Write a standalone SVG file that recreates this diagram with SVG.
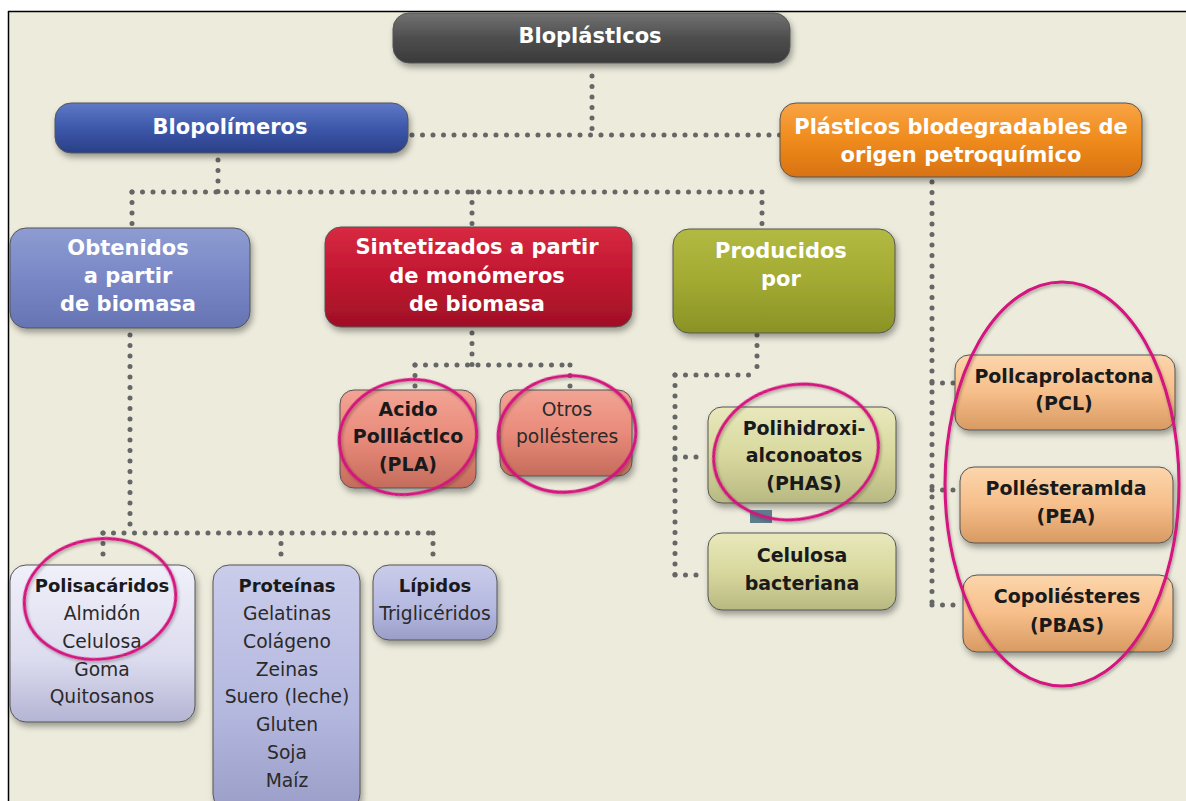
<svg xmlns="http://www.w3.org/2000/svg" width="1186" height="801" viewBox="0 0 1186 801">
<defs>
<filter id="sh" x="-10%" y="-10%" width="125%" height="135%"><feDropShadow dx="2" dy="4" stdDeviation="3" flood-color="#000" flood-opacity="0.35"/></filter>
<filter id="esh" x="-10%" y="-10%" width="125%" height="125%"><feDropShadow dx="1" dy="2" stdDeviation="1.5" flood-color="#000" flood-opacity="0.3"/></filter>
<linearGradient id="gDark" x1="0" y1="0" x2="0" y2="1"><stop offset="0" stop-color="#727272"/><stop offset="0.5" stop-color="#4e4e4e"/><stop offset="1" stop-color="#3a3a3a"/></linearGradient>
<linearGradient id="gBlue" x1="0" y1="0" x2="0" y2="1"><stop offset="0" stop-color="#6078c6"/><stop offset="0.5" stop-color="#3d58aa"/><stop offset="1" stop-color="#2a3f88"/></linearGradient>
<linearGradient id="gOrange" x1="0" y1="0" x2="0" y2="1"><stop offset="0" stop-color="#f8a445"/><stop offset="0.5" stop-color="#ef8b1c"/><stop offset="1" stop-color="#d87212"/></linearGradient>
<linearGradient id="gLav" x1="0" y1="0" x2="0" y2="1"><stop offset="0" stop-color="#8e9cd2"/><stop offset="0.5" stop-color="#7987c6"/><stop offset="1" stop-color="#6674b4"/></linearGradient>
<linearGradient id="gRed" x1="0" y1="0" x2="0" y2="1"><stop offset="0" stop-color="#d82a42"/><stop offset="0.5" stop-color="#c01630"/><stop offset="1" stop-color="#a01026"/></linearGradient>
<linearGradient id="gOlive" x1="0" y1="0" x2="0" y2="1"><stop offset="0" stop-color="#b2ba42"/><stop offset="0.5" stop-color="#a2aa32"/><stop offset="1" stop-color="#8a9226"/></linearGradient>
<linearGradient id="gSalmon" x1="0" y1="0" x2="0" y2="1"><stop offset="0" stop-color="#f2a494"/><stop offset="0.5" stop-color="#e98a7a"/><stop offset="1" stop-color="#c46c5c"/></linearGradient>
<linearGradient id="gPale" x1="0" y1="0" x2="0" y2="1"><stop offset="0" stop-color="#e8e8bc"/><stop offset="0.5" stop-color="#d8d89e"/><stop offset="1" stop-color="#b8b882"/></linearGradient>
<linearGradient id="gLor" x1="0" y1="0" x2="0" y2="1"><stop offset="0" stop-color="#fcd6ac"/><stop offset="0.5" stop-color="#f6be8a"/><stop offset="1" stop-color="#d89a62"/></linearGradient>
<linearGradient id="gPlav" x1="0" y1="0" x2="0" y2="1"><stop offset="0" stop-color="#f0f0fa"/><stop offset="0.6" stop-color="#dcdcef"/><stop offset="1" stop-color="#b4b4d4"/></linearGradient>
<linearGradient id="gLav2" x1="0" y1="0" x2="0" y2="1"><stop offset="0" stop-color="#caccea"/><stop offset="0.6" stop-color="#b4b8df"/><stop offset="1" stop-color="#9a9ec8"/></linearGradient>
<style>
.box{stroke:#555;stroke-width:1;filter:url(#sh)}
.dot{fill:none;stroke:#666;stroke-width:5;stroke-linecap:round;stroke-dasharray:0 10.5}
.tw{font-family:"DejaVu Sans","Verdana",sans-serif;font-weight:bold;fill:#fff;text-anchor:middle;font-size:21px}
.tb{font-family:"DejaVu Sans","Verdana",sans-serif;font-weight:bold;fill:#1a1a1a;text-anchor:middle;font-size:19px}
.tn{font-family:"DejaVu Sans","Verdana",sans-serif;fill:#2a2a2a;text-anchor:middle;font-size:18.7px}
.bb{font-size:18px}
.ring{fill:none;stroke:#d4127e;stroke-width:3;filter:url(#esh)}
</style>
</defs>
<rect x="0" y="0" width="1186" height="801" fill="#fff"/>
<rect x="8" y="11" width="1178" height="790" fill="#ecebdc"/>
<path d="M8 11.5H1186M8.5 11V801" stroke="#000" stroke-width="1.5" fill="none"/>

<g id="connectors">
<path class="dot" d="M592 76V135"/>
<path class="dot" d="M412 135H780"/>
<path class="dot" d="M218 160V192"/>
<path class="dot" d="M132 192H762"/>
<path class="dot" d="M132 192V226"/>
<path class="dot" d="M472 192V226"/>
<path class="dot" d="M762 192V228"/>
<path class="dot" d="M932 182V605"/>
<path class="dot" d="M932 383H955"/>
<path class="dot" d="M932 490H960"/>
<path class="dot" d="M932 605H963"/>
<path class="dot" d="M130 335V533"/>
<path class="dot" d="M103 533H433"/>
<path class="dot" d="M103 533V563"/>
<path class="dot" d="M281 533V563"/>
<path class="dot" d="M433 533V563"/>
<path class="dot" d="M472 333V365"/>
<path class="dot" d="M415 365H570"/>
<path class="dot" d="M415 365V388"/>
<path class="dot" d="M570 365V388"/>
<path class="dot" d="M757 335V375"/>
<path class="dot" d="M675 375H757"/>
<path class="dot" d="M675 375V575"/>
<path class="dot" d="M675 457H706"/>
<path class="dot" d="M675 575H706"/>
</g>

<g id="bioplasticos"><rect class="box" x="393" y="13" width="397" height="50" rx="16" fill="url(#gDark)"/><text class="tw" x="590" y="43">Bloplástlcos</text></g>
<g id="biopolimeros"><rect class="box" x="55" y="103" width="353" height="50" rx="16" fill="url(#gBlue)"/><text class="tw" x="230" y="134">Blopolímeros</text></g>
<g id="petroquimico"><rect class="box" x="780" y="103" width="362" height="74" rx="16" fill="url(#gOrange)"/><text class="tw" x="961" y="134">Plástlcos blodegradables de</text><text class="tw" x="961" y="162">origen petroquímico</text></g>

<g id="obtenidos"><rect class="box" x="10" y="228" width="240" height="100" rx="16" fill="url(#gLav)"/><text class="tw" x="128" y="255">Obtenidos</text><text class="tw" x="128" y="283">a partir</text><text class="tw" x="128" y="311">de biomasa</text></g>
<g id="sintetizados"><rect class="box" x="325" y="227" width="307" height="100" rx="16" fill="url(#gRed)"/><text class="tw" x="477" y="254">Sintetizados a partir</text><text class="tw" x="477" y="283">de monómeros</text><text class="tw" x="477" y="311">de biomasa</text></g>
<g id="producidos"><rect class="box" x="673" y="229" width="222" height="104" rx="16" fill="url(#gOlive)"/><text class="tw" x="781" y="258">Producidos</text><text class="tw" x="781" y="286">por</text></g>

<g id="pla"><rect class="box" x="340" y="390" width="136" height="98" rx="14" fill="url(#gSalmon)"/><text class="tb" x="408" y="416">Acido</text><text class="tb" x="408" y="443">Pollláctlco</text><text class="tb" x="408" y="471">(PLA)</text></g>
<g id="otros"><rect class="box" x="500" y="390" width="132" height="86" rx="14" fill="url(#gSalmon)"/><text class="tn" x="567" y="416">Otros</text><text class="tn" x="567" y="443">pollésteres</text></g>

<g id="phas"><rect class="box" x="708" y="407" width="188" height="96" rx="14" fill="url(#gPale)"/><text class="tb" x="804" y="435">Polihidroxi-</text><text class="tb" x="804" y="462">alconoatos</text><text class="tb" x="804" y="490">(PHAS)</text><rect x="750" y="510" width="22" height="13" fill="#5e7c8c"/></g>
<g id="celulosa-bacteriana"><rect class="box" x="708" y="533" width="188" height="77" rx="14" fill="url(#gPale)"/><text class="tb" x="802" y="562">Celulosa</text><text class="tb" x="802" y="590">bacteriana</text></g>

<g id="pcl"><rect class="box" x="955" y="355" width="220" height="75" rx="14" fill="url(#gLor)"/><text class="tb" x="1064" y="383">Pollcaprolactona</text><text class="tb" x="1064" y="410">(PCL)</text></g>
<g id="pea"><rect class="box" x="960" y="467" width="213" height="76" rx="14" fill="url(#gLor)"/><text class="tb" x="1066" y="495">Pollésteramlda</text><text class="tb" x="1066" y="523">(PEA)</text></g>
<g id="pbas"><rect class="box" x="963" y="575" width="210" height="77" rx="14" fill="url(#gLor)"/><text class="tb" x="1067" y="603">Copoliésteres</text><text class="tb" x="1067" y="632">(PBAS)</text></g>

<g id="polisacaridos"><rect class="box" x="10" y="565" width="185" height="157" rx="16" fill="url(#gPlav)"/><text class="tb bb" x="102" y="592">Polisacáridos</text><text class="tn" x="102" y="620">Almidón</text><text class="tn" x="102" y="648">Celulosa</text><text class="tn" x="102" y="676">Goma</text><text class="tn" x="102" y="703">Quitosanos</text></g>
<g id="proteinas"><rect class="box" x="213" y="565" width="147" height="245" rx="16" fill="url(#gLav2)"/><text class="tb bb" x="287" y="592">Proteínas</text><text class="tn" x="287" y="620">Gelatinas</text><text class="tn" x="287" y="648">Colágeno</text><text class="tn" x="287" y="676">Zeinas</text><text class="tn" x="287" y="703">Suero (leche)</text><text class="tn" x="287" y="731">Gluten</text><text class="tn" x="287" y="759">Soja</text><text class="tn" x="287" y="787">Maíz</text></g>
<g id="lipidos"><rect class="box" x="373" y="565" width="124" height="75" rx="16" fill="url(#gLav2)"/><text class="tb bb" x="435" y="592">Lípidos</text><text class="tn" x="435" y="620">Triglicéridos</text></g>

<g id="highlights">
<ellipse class="ring" cx="100" cy="599" rx="76" ry="60" transform="rotate(-8 100 599)"/>
<ellipse class="ring" cx="408" cy="437" rx="69" ry="57" transform="rotate(-10 408 437)"/>
<ellipse class="ring" cx="567" cy="434" rx="69" ry="58" transform="rotate(-8 567 434)"/>
<ellipse class="ring" cx="796" cy="452" rx="83" ry="67" transform="rotate(-12 796 452)"/>
<ellipse class="ring" cx="1062" cy="484" rx="117" ry="202"/>
</g>
</svg>
